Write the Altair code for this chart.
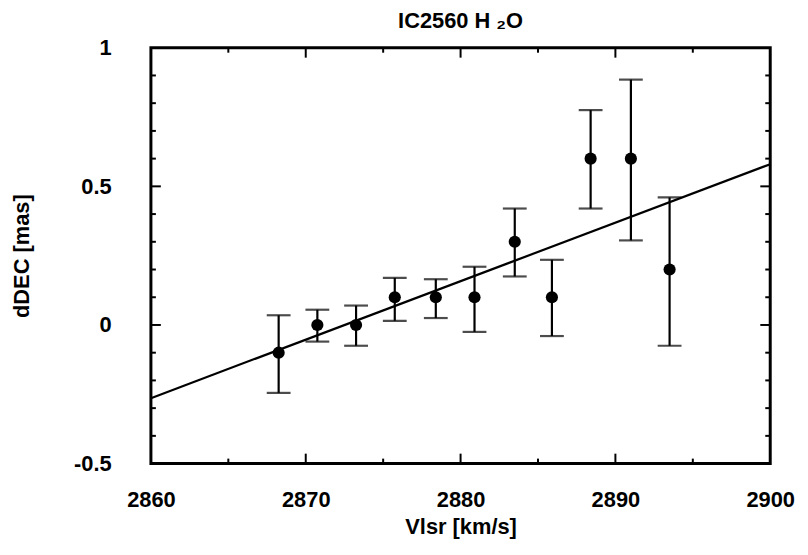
import altair as alt
import pandas as pd

# Data
vlsr = [2868.25, 2870.75, 2873.25, 2875.75, 2878.4, 2880.9, 2883.5, 2885.9, 2888.4, 2891.0, 2893.5]
ddec = [-0.10, 0.0, 0.0, 0.10, 0.10, 0.10, 0.30, 0.10, 0.60, 0.60, 0.20]
err_hi = [0.035, 0.055, 0.07, 0.17, 0.165, 0.21, 0.42, 0.235, 0.775, 0.885, 0.46]
err_lo = [-0.245, -0.06, -0.075, 0.015, 0.025, -0.025, 0.175, -0.04, 0.42, 0.305, -0.075]

fit_x = [2860, 2900]
fit_y = [-0.264, 0.58]

x_labels = [2860, 2870, 2880, 2890, 2900]
y_labels = [-0.5, 0, 0.5, 1]
x_major = [2870, 2880, 2890]
x_minor = [2865, 2875, 2885, 2895]
y_major = [0, 0.5]
y_minor = [-0.4, -0.3, -0.2, -0.1, 0.1, 0.2, 0.3, 0.4, 0.6, 0.7, 0.8, 0.9]

W, H = 624, 419
FONT = "Liberation Sans"

df = pd.DataFrame({"v": vlsr, "d": ddec, "hi": err_hi, "lo": err_lo})
fit = pd.DataFrame({"v": fit_x, "d": fit_y})

xs = alt.Scale(domain=[2860, 2900], nice=False, zero=False)
ys = alt.Scale(domain=[-0.5, 1], nice=False, zero=False)
XT = "Vlsr [km/s]"
YT = "dDEC [mas]"
xax = alt.Axis(values=x_labels, labelFlush=False, labelPadding=26, titlePadding=6, format="d")
yax = alt.Axis(values=y_labels, labelPadding=40, titlePadding=40, labelExpr="'' + datum.value")


def X(f):
    return alt.X(f, scale=xs, title=XT, axis=xax)


def Y(f):
    return alt.Y(f, scale=ys, title=YT, axis=yax)


base = alt.Chart(df)

bars = base.mark_rule(color="black", strokeWidth=2.2).encode(x=X("v:Q"), y=Y("lo:Q"), y2="hi:Q")
cap_hi = base.mark_tick(color="black", orient="horizontal", size=24, thickness=2.2).encode(
    x=X("v:Q"), y=Y("hi:Q"))
cap_lo = base.mark_tick(color="black", orient="horizontal", size=24, thickness=2.2).encode(
    x=X("v:Q"), y=Y("lo:Q"))
pts = base.mark_circle(color="black", opacity=1, size=150).encode(x=X("v:Q"), y=Y("d:Q"))
line = alt.Chart(fit).mark_line(color="black", strokeWidth=2.2).encode(x=X("v:Q"), y=Y("d:Q"))


def xticks(vals, L):
    d = pd.DataFrame({"v": vals})
    bottom = alt.Chart(d).mark_rule(color="black", strokeWidth=2).encode(
        x=X("v:Q"), y=alt.value(H), y2=alt.value(H - L))
    top = alt.Chart(d).mark_rule(color="black", strokeWidth=2).encode(
        x=X("v:Q"), y=alt.value(0), y2=alt.value(L))
    return [bottom, top]


def yticks(vals, L):
    d = pd.DataFrame({"d": vals})
    left = alt.Chart(d).mark_rule(color="black", strokeWidth=2).encode(
        y=Y("d:Q"), x=alt.value(0), x2=alt.value(L))
    right = alt.Chart(d).mark_rule(color="black", strokeWidth=2).encode(
        y=Y("d:Q"), x=alt.value(W), x2=alt.value(W - L))
    return [left, right]


layers = [bars, cap_hi, cap_lo, line, pts] + xticks(x_major, 10) + xticks(x_minor, 5) \
    + yticks(y_major, 10) + yticks(y_minor, 5)

chart = alt.layer(*layers).properties(
    width=W, height=H,
    autosize="none",
    padding={"left": 144, "top": 38, "right": 30, "bottom": 80},
    title=alt.TitleParams("IC2560  H ₂O", font=FONT, fontSize=22, fontWeight="bold",
                          offset=4, color="black"),
).configure(background="white").configure_view(
    stroke="black", strokeWidth=3
).configure_axis(
    grid=False, ticks=False, domain=False,
    labelFont=FONT, labelFontSize=22, labelFontWeight="bold", labelColor="black",
    titleFont=FONT, titleFontSize=22, titleFontWeight="bold", titleColor="black",
)

chart.save("out.html", embed_options={"renderer": "svg", "actions": False})
